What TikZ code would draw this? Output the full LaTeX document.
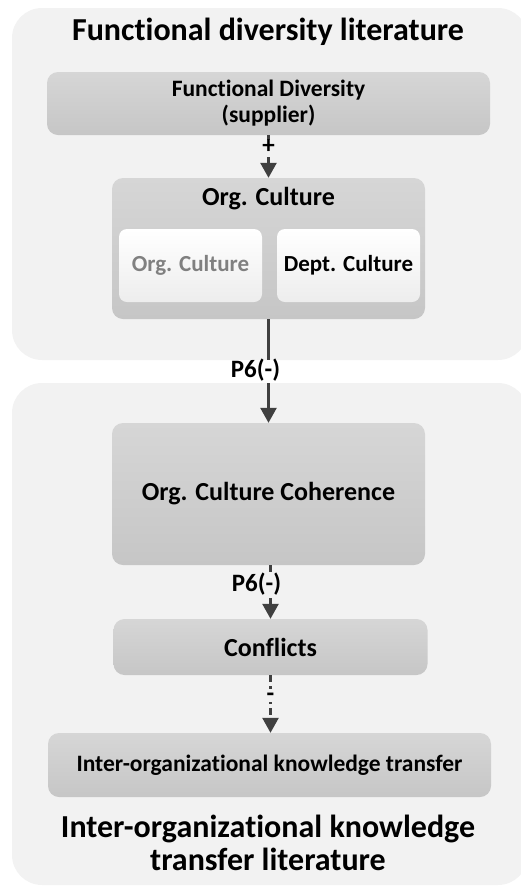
\documentclass[tikz,border=0pt]{standalone}
\usepackage{fontspec}
\setmainfont{Carlito}[Ligatures={NoCommon}]
\usetikzlibrary{arrows.meta,positioning}
\definecolor{panelgray}{HTML}{F2F2F2}
\definecolor{boxtop}{HTML}{D6D6D6}
\definecolor{boxbot}{HTML}{C6C6C6}
\definecolor{innertop}{HTML}{FFFFFF}
\definecolor{innerbot}{HTML}{EDEDED}
\definecolor{arrowgray}{HTML}{404040}
\tikzset{
  x=1pt, y=1pt,
  panel/.style={fill=panelgray, draw=none, rounded corners=30pt},
  graybox/.style={draw=none, rounded corners=11pt, top color=boxtop, bottom color=boxbot,
    align=center, inner sep=0pt},
  innerbox/.style={draw=none, rounded corners=8pt, top color=innertop, bottom color=innerbot,
    align=center, font=\bfseries\fontsize{23}{26}\selectfont, inner sep=0pt,
    minimum width=143pt, minimum height=73pt},
  smalltext/.style={font=\bfseries\fontsize{23.5}{26}\selectfont},
  bigtext/.style={font=\bfseries\fontsize{26}{30}\selectfont},
  heading/.style={font=\bfseries\fontsize{32}{33}\selectfont, align=center, inner sep=0pt},
  link/.style={draw=arrowgray, line width=2.6pt, -{Triangle[width=16pt,length=15pt]}},
  dashlink/.style={link, dash pattern=on 7pt off 4pt},
  sign/.style={font=\bfseries\fontsize{25}{26}\selectfont, inner sep=0pt,
    text height=13pt, text depth=1pt}
}
\begin{document}
\begin{tikzpicture}
\useasboundingbox (0,0) rectangle (520,-887);

% literature panels
\fill[panel] (12,-8) rectangle (528,-360);
\fill[panel] (12,-383) rectangle (528,-885);
\useasboundingbox (0,0) rectangle (520,-887);

\node[heading, anchor=base] (topTitle) at (268,-40) {Functional diversity literature};
\node[heading, anchor=base] (botTitle) at (268,-837) {Inter-organizational knowledge};
\node[heading, anchor=base] (botTitle2) at (268,-870) {transfer literature};

% boxes
\node[graybox, smalltext, minimum width=443pt, minimum height=63pt] (fd) at (268.5,-103.5)
      {Functional Diversity\\(supplier)};
\node[graybox, minimum width=313pt, minimum height=141pt] (oc) at (268.5,-248.5) {};
\node[bigtext, anchor=base] (ocTitle) at (268.5,-205) {Org. Culture};
\node[innerbox, text=gray] (ocIn) at (190.5,-265.5) {Org. Culture};
\node[innerbox] (dept) at (348.5,-265.5) {Dept. Culture};
\node[graybox, bigtext, minimum width=313pt, minimum height=142pt] (occ) at (268.5,-494)
      {Org. Culture Coherence};
\node[graybox, bigtext, minimum width=314pt, minimum height=56pt] (conf) at (270.5,-647)
      {Conflicts};
\node[graybox, smalltext, minimum width=443pt, minimum height=64pt] (ikt) at (269.5,-765)
      {Inter-organizational knowledge transfer};

% connectors
\draw[dashlink] (fd.south) -- (oc.north)
  node[sign, pos=0.3, fill=panelgray, inner ysep=1pt] {+};
\draw[link] (oc.south) -- (occ.north)
  node[sign, pos=0.505, fill=white, minimum height=23pt, xshift=-13pt] {P6(-)};
\draw[dashlink] (occ.south -| conf.north) -- (conf.north)
  node[sign, pos=0.37, fill=panelgray, inner ysep=4pt, xshift=-14pt] {P6(-)};
\draw[dashlink] (conf.south) -- (ikt.north -| conf.south)
  node[sign, pos=0.36, fill=panelgray, inner ysep=1pt, inner xsep=2pt,
       text height=11pt, text depth=0pt] {-};
\end{tikzpicture}
\end{document}
